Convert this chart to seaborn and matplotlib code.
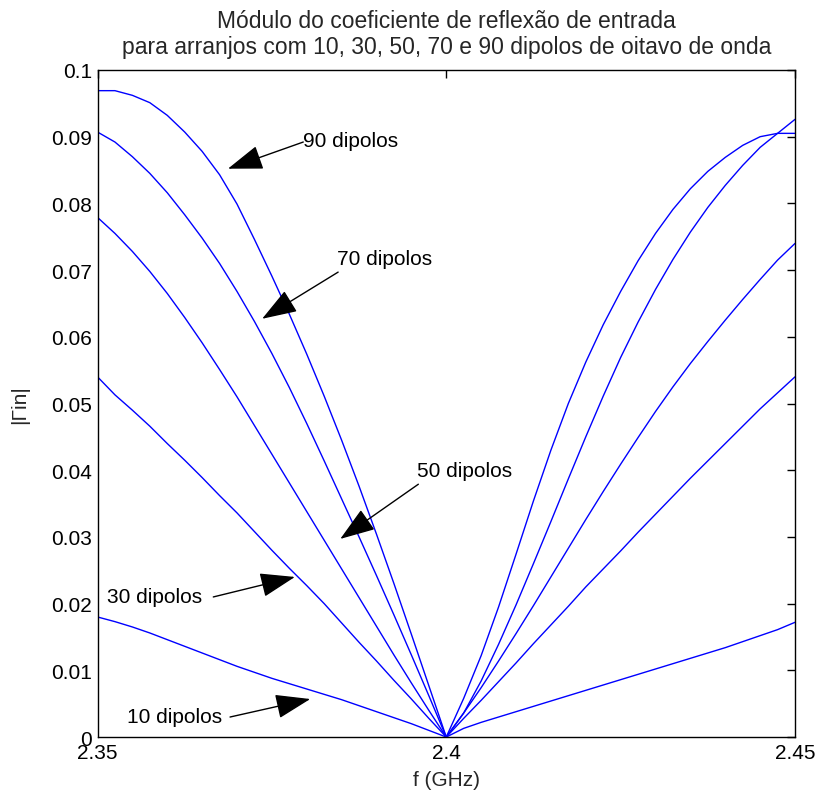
import matplotlib
matplotlib.use("Agg")
import matplotlib.pyplot as plt
import seaborn as sns
import pandas as pd

# ---- data ----
freq = [2.3500, 2.3525, 2.3550, 2.3575, 2.3600, 2.3625, 2.3650, 2.3675, 2.3700, 2.3725,
        2.3750, 2.3775, 2.3800, 2.3825, 2.3850, 2.3875, 2.3900, 2.3925, 2.3950, 2.3975,
        2.4000,
        2.4025, 2.4050, 2.4075, 2.4100, 2.4125, 2.4150, 2.4175, 2.4200, 2.4225, 2.4250,
        2.4275, 2.4300, 2.4325, 2.4350, 2.4375, 2.4400, 2.4425, 2.4450, 2.4475, 2.4500]

gamma_10 = [0.0180, 0.0173, 0.0165, 0.0156, 0.0146, 0.0136, 0.0126, 0.0116, 0.0106, 0.0097,
            0.0088, 0.0080, 0.0072, 0.0064, 0.0056, 0.0047, 0.0038, 0.0029, 0.0020, 0.0010,
            0.0,
            0.0013, 0.0022, 0.0030, 0.0038, 0.0046, 0.0054, 0.0062, 0.0070, 0.0078, 0.0086,
            0.0094, 0.0102, 0.0110, 0.0118, 0.0126, 0.0134, 0.0143, 0.0152, 0.0161, 0.0172]
gamma_30 = [0.0540, 0.0513, 0.0490, 0.0466, 0.0440, 0.0415, 0.0389, 0.0362, 0.0336, 0.0308,
            0.0280, 0.0253, 0.0227, 0.0200, 0.0171, 0.0142, 0.0114, 0.0085, 0.0057, 0.0028,
            0.0,
            0.0028, 0.0055, 0.0083, 0.0111, 0.0140, 0.0168, 0.0196, 0.0225, 0.0252, 0.0279,
            0.0307, 0.0334, 0.0361, 0.0388, 0.0414, 0.0440, 0.0466, 0.0492, 0.0516, 0.0540]
gamma_50 = [0.0779, 0.0755, 0.0728, 0.0698, 0.0665, 0.0629, 0.0591, 0.0551, 0.0510, 0.0467,
            0.0424, 0.0381, 0.0338, 0.0295, 0.0252, 0.0209, 0.0166, 0.0123, 0.0081, 0.0040,
            0.0,
            0.0036, 0.0074, 0.0114, 0.0155, 0.0197, 0.0240, 0.0283, 0.0326, 0.0368, 0.0409,
            0.0449, 0.0488, 0.0525, 0.0560, 0.0593, 0.0625, 0.0656, 0.0686, 0.0715, 0.0740]
gamma_70 = [0.0907, 0.0892, 0.0870, 0.0845, 0.0816, 0.0783, 0.0748, 0.0710, 0.0668, 0.0623,
            0.0575, 0.0524, 0.0470, 0.0414, 0.0357, 0.0300, 0.0242, 0.0183, 0.0123, 0.0062,
            0.0,
            0.0036, 0.0084, 0.0139, 0.0198, 0.0260, 0.0323, 0.0387, 0.0450, 0.0511, 0.0569,
            0.0622, 0.0671, 0.0716, 0.0757, 0.0794, 0.0827, 0.0857, 0.0884, 0.0905, 0.0926]
gamma_90 = [0.0969, 0.0969, 0.0962, 0.0951, 0.0932, 0.0907, 0.0878, 0.0843, 0.0799, 0.0746,
            0.0691, 0.0634, 0.0574, 0.0511, 0.0445, 0.0376, 0.0304, 0.0230, 0.0154, 0.0077,
            0.0,
            0.0058, 0.0122, 0.0195, 0.0274, 0.0354, 0.0430, 0.0500, 0.0562, 0.0618, 0.0668,
            0.0714, 0.0755, 0.0791, 0.0822, 0.0848, 0.0869, 0.0887, 0.0900, 0.0905, 0.0905]

series_names = ["10 dipolos", "30 dipolos", "50 dipolos", "70 dipolos", "90 dipolos"]
series_vals = [gamma_10, gamma_30, gamma_50, gamma_70, gamma_90]

x_ticks = [2.35, 2.4, 2.45]
x_ticklabels = ["2.35", "2.4", "2.45"]
y_ticks = [0, 0.01, 0.02, 0.03, 0.04, 0.05, 0.06, 0.07, 0.08, 0.09, 0.1]
y_ticklabels = ["0", "0.01", "0.02", "0.03", "0.04", "0.05", "0.06", "0.07", "0.08", "0.09", "0.1"]

# annotation: label, arrow tip (x, y), arrow tail (x, y), text position (x, y)
annotations = [
    ("90 dipolos", (2.3687, 0.0852), (2.3795, 0.0892), (2.3794, 0.0895)),
    ("70 dipolos", (2.3736, 0.0627), (2.3845, 0.0697), (2.3843, 0.0717)),
    ("50 dipolos", (2.3848, 0.0297), (2.3960, 0.0379), (2.3958, 0.0399)),
    ("30 dipolos", (2.3783, 0.0240), (2.3666, 0.0210), (2.3514, 0.0211)),
    ("10 dipolos", (2.3805, 0.0057), (2.3690, 0.0030), (2.3542, 0.0031)),
]

rows = []
for name, vals in zip(series_names, series_vals):
    for f, g in zip(freq, vals):
        rows.append({"f": f, "gamma": g, "serie": name})
df = pd.DataFrame(rows)

sns.set_style("white")
plt.rcParams["font.family"] = ["Liberation Sans", "DejaVu Sans"]
FS = 15

fig = plt.figure(figsize=(8.18, 8.03), dpi=100)
ax = fig.add_axes([0.1192, 0.0809, 0.9719 - 0.1192, 0.9116 - 0.0809])

sns.lineplot(data=df, x="f", y="gamma", hue="serie",
             palette=["#0000ff"] * 5, legend=False, ax=ax, linewidth=1.0)

ax.set_xlim(2.35, 2.45)
ax.set_ylim(0, 0.1)
ax.set_xticks(x_ticks)
ax.set_xticklabels(x_ticklabels, fontsize=FS)
ax.set_yticks(y_ticks)
ax.set_yticklabels(y_ticklabels, fontsize=FS)
ax.tick_params(direction="in", length=6, width=1, top=True, right=True,
               color="black", labelcolor="black", pad=4)
for sp in ax.spines.values():
    sp.set_visible(True)
    sp.set_color("black")
    sp.set_linewidth(1.0)

ax.set_xlabel("f (GHz)", fontsize=FS, labelpad=6)
ax.set_ylabel("|\u0393in|", fontsize=FS, labelpad=16)
ax.set_title("Módulo do coeficiente de reflexão de entrada\n"
             "para arranjos com 10, 30, 50, 70 e 90 dipolos de oitavo de onda",
             fontsize=16.5, pad=12, linespacing=1.2)

for label, tip, tail, tpos in annotations:
    ax.annotate("", xy=tip, xytext=tail,
                arrowprops=dict(arrowstyle="-|>,head_length=1.0,head_width=0.35",
                                color="black", lw=1.0, mutation_scale=22,
                                shrinkA=0, shrinkB=0))
    ax.text(tpos[0], tpos[1], label, fontsize=FS, ha="left", va="center",
            color="black")

fig.savefig("out.png", dpi=100)
